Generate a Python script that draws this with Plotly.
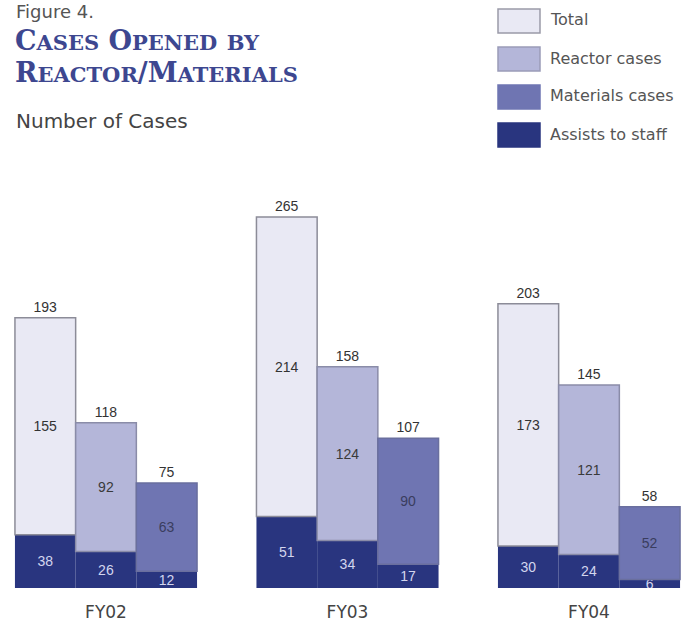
import plotly.graph_objects as go

# --------------------------------------------------
# Data
# --------------------------------------------------

years = ["FY02", "FY03", "FY04"]

total = [193, 265, 203]
total_inner = [155, 214, 173]
total_assist = [38, 51, 30]

reactor = [118, 158, 145]
reactor_inner = [92, 124, 121]
reactor_assist = [26, 34, 24]

materials = [75, 107, 58]
materials_inner = [63, 90, 52]
materials_assist = [12, 17, 6]

legend_labels = ["Total", "Reactor cases", "Materials cases", "Assists to staff"]

# --------------------------------------------------
# Style
# --------------------------------------------------

C_TOTAL = "#e9e9f4"
C_REACTOR = "#b4b6d9"
C_MATERIALS = "#6f75b2"
C_ASSIST = "#29357f"
NUM_FONT = "Liberation Sans, Arial, sans-serif"
LBL_FONT = "DejaVu Sans, sans-serif"
SERIF = "DejaVu Serif, serif"

# plot area in pixels (page margin removed below)
FIG_W, FIG_H = 691, 624
L, T, W, H = 10, 168, 671, 420


def px_x(p):
    return (p - L) / W


def px_y(p):
    return 1 - (p - T) / H


groups = [
    ("total", total, total_inner, total_assist, C_TOTAL, "#8c8c98", "#333333"),
    ("reactor", reactor, reactor_inner, reactor_assist, C_REACTOR, "#8a8ca8", "#3a3a3a"),
    ("materials", materials, materials_inner, materials_assist, C_MATERIALS, "#6a6f9e", "#3a3d5e"),
]

fig = go.Figure()

for name, tot, inner, assist, fill, line, txt in groups:

    fig.add_trace(go.Bar(
        x=years, y=assist, base=0, offsetgroup=name,
        marker=dict(color=C_ASSIST, line=dict(color=C_ASSIST, width=0)),
        text=assist, textposition="inside", insidetextanchor="middle", textangle=0,
        textfont=dict(color="#d3d6ee", size=14, family=NUM_FONT),
        showlegend=False, hoverinfo="skip"
    ))

    fig.add_trace(go.Bar(
        x=years, y=inner, base=assist, offsetgroup=name,
        marker=dict(color=fill, line=dict(color=line, width=1.5)),
        text=inner, textposition="inside", insidetextanchor="middle", textangle=0,
        textfont=dict(color=txt, size=14, family=NUM_FONT),
        showlegend=False, hoverinfo="skip"
    ))

    fig.add_trace(go.Bar(
        x=years, y=tot, base=0, offsetgroup=name,
        marker=dict(color="rgba(0,0,0,0)", line=dict(width=0)),
        text=tot, textposition="outside", textangle=0,
        outsidetextfont=dict(color="#333333", size=14, family=NUM_FONT),
        showlegend=False, hoverinfo="skip", cliponaxis=False
    ))

# --------------------------------------------------
# Titles
# --------------------------------------------------

SC = "<span style='font-size:21px'>"
title1 = f"<b>C{SC}ASES</span> O{SC}PENED</span> {SC}BY</span></b>"
title2 = f"<b>R{SC}EACTOR</span>/M{SC}ATERIALS</span></b>"

annotations = [
    dict(text="Figure 4.", x=px_x(14), y=px_y(11), xanchor="left", yanchor="middle",
         font=dict(size=18, color="#555555", family=LBL_FONT)),
    dict(text=title1, x=px_x(13), y=px_y(41), xanchor="left", yanchor="middle",
         font=dict(size=27, color="#3d4790", family=SERIF)),
    dict(text=title2, x=px_x(13), y=px_y(73), xanchor="left", yanchor="middle",
         font=dict(size=27, color="#3d4790", family=SERIF)),
    dict(text="Number of Cases", x=px_x(14), y=px_y(121), xanchor="left", yanchor="middle",
         font=dict(size=20, color="#444444", family=LBL_FONT)),
]

# --------------------------------------------------
# Custom legend
# --------------------------------------------------

shapes = []
swatch_colors = [C_TOTAL, C_REACTOR, C_MATERIALS, C_ASSIST]
swatch_lines = ["#9a9aa8", "#9a9cb8", C_MATERIALS, C_ASSIST]

for i, label in enumerate(legend_labels):
    top = 9 + 38 * i
    shapes.append(dict(
        type="rect", xref="paper", yref="paper",
        x0=px_x(498), x1=px_x(540), y0=px_y(top), y1=px_y(top + 24),
        fillcolor=swatch_colors[i], line=dict(color=swatch_lines[i], width=1.5)
    ))
    annotations.append(dict(
        text=label, x=px_x(548), y=px_y(top + 11), xanchor="left", yanchor="middle",
        font=dict(size=16, color="#555555", family=LBL_FONT)
    ))

for a in annotations:
    a.update(xref="paper", yref="paper", showarrow=False)

fig.update_layout(
    width=FIG_W, height=FIG_H,
    margin=dict(l=L, r=FIG_W - L - W, t=T, b=FIG_H - T - H, pad=0),
    plot_bgcolor="white", paper_bgcolor="white",
    barmode="group", bargap=0.246, bargroupgap=0,
    uniformtext=dict(minsize=14, mode="show"),
    annotations=annotations, shapes=shapes,
    xaxis=dict(
        range=[(L - 106) / 241.5, (L + W - 106) / 241.5],
        showgrid=False, zeroline=False, showline=False, ticks="",
        tickfont=dict(size=17, color="#444444", family=LBL_FONT),
        ticklabelstandoff=12, automargin=False
    ),
    yaxis=dict(range=[0, 300], visible=False, automargin=False),
    showlegend=False
)

fig.write_html(
    "out.html",
    config={"displayModeBar": False},
    post_script="document.body.style.margin = '0';"
)
